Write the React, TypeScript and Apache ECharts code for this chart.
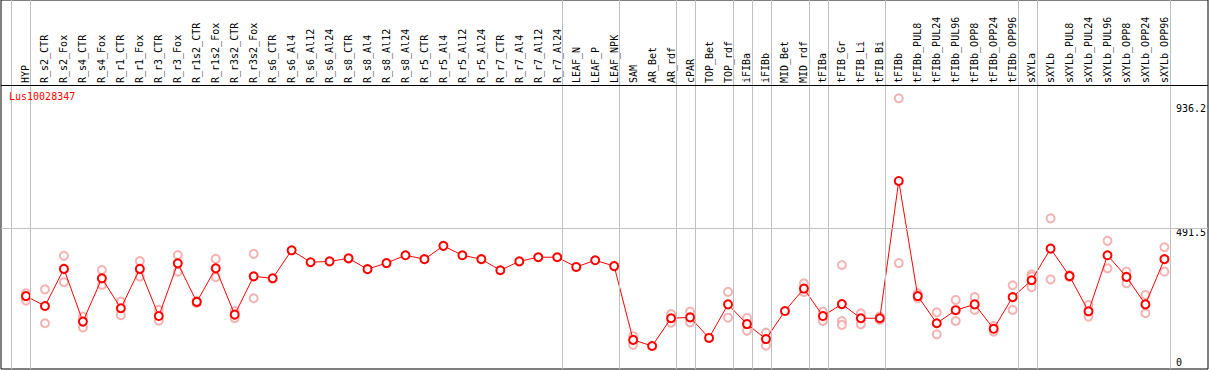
import React, { useEffect, useRef } from "react";
import * as echarts from "echarts";

const TITLE = "Lus10028347";

const CATEGORIES = [
  "HYP", "R_s2_CTR", "R_s2_Fox", "R_s4_CTR", "R_s4_Fox", "R_r1_CTR", "R_r1_Fox", "R_r3_CTR", "R_r3_Fox",
  "R_r1s2_CTR", "R_r1s2_Fox", "R_r3s2_CTR", "R_r3s2_Fox", "R_s6_CTR", "R_s6_Al4", "R_s6_Al12", "R_s6_Al24",
  "R_s8_CTR", "R_s8_Al4", "R_s8_Al12", "R_s8_Al24", "R_r5_CTR", "R_r5_Al4", "R_r5_Al12", "R_r5_Al24",
  "R_r7_CTR", "R_r7_Al4", "R_r7_Al12", "R_r7_Al24", "LEAF_N", "LEAF_P", "LEAF_NPK", "SAM", "AR_Bet", "AR_rdf",
  "cPAR", "TOP_Bet", "TOP_rdf", "iFIBa", "iFIBb", "MID_Bet", "MID_rdf", "tFIBa", "tFIB_Gr", "tFIB_Li", "tFIB_Bi",
  "tFIBb", "tFIBb_PUL8", "tFIBb_PUL24", "tFIBb_PUL96", "tFIBb_OPP8", "tFIBb_OPP24", "tFIBb_OPP96", "sXYLa",
  "sXYLb", "sXYLb_PUL8", "sXYLb_PUL24", "sXYLb_PUL96", "sXYLb_OPP8", "sXYLb_OPP24", "sXYLb_OPP96",
];

const MEANS = [
  247, 211, 345, 155, 311, 203, 345, 175, 365, 226, 347, 180, 318, 311, 412, 369, 372, 383, 344, 366,
  394, 380, 428, 394, 380, 340, 372, 387, 387, 352, 376, 355, 89, 67, 167, 170, 96, 217, 146, 92,
  193, 274, 175, 218, 167, 167, 662, 247, 149, 196, 217, 129, 243, 304, 418, 319, 192, 394, 316, 217, 380,
];

const REPLICATES: number[][] = [
  [257, 239, 230], [271, 149], [392, 297], [173, 134], [341, 287], [227, 178], [373, 317], [197, 158],
  [395, 335], [229, 222], [381, 315], [193, 167], [399, 239], [], [], [], [], [], [], [], [], [], [], [],
  [], [], [], [], [], [], [], [], [103, 71], [], [182, 151], [191, 152], [], [262, 169], [168, 122],
  [115, 68], [], [293, 262], [191, 157], [359, 157, 143], [185, 145], [173, 161], [960, 366], [257, 239],
  [188, 109], [233, 157], [243, 197], [139, 119], [286, 197], [325, 317, 279], [527, 307], [323, 316],
  [215, 173], [446, 347], [335, 293], [251, 185], [423, 335],
];

// index of the last category of each group (a grey rule follows it)
const GROUP_ENDS = [-1, 0, 28, 31, 34, 35, 37, 38, 39, 41, 42, 45, 52, 53, 60];

const Y_TICKS = [0, 491.5, 936.2];
const Y_MIN = -16;
const Y_PLOT_MAX = 1008;
const Y_FULL_MAX = 1314.5;

const FONT = '"DejaVu Sans Mono", monospace';

export default function App() {
  const ref = useRef<HTMLDivElement>(null);
  useEffect(() => {
    if (!ref.current) return;
    const chart = echarts.init(ref.current, undefined, { renderer: "svg" });
    const repData: number[][] = [];
    REPLICATES.forEach((vals, i) => vals.forEach((v) => repData.push([i, v])));
    const yLabelBase = {
      fontSize: 10,
      fontFamily: FONT,
      color: "#000",
      margin: 2,
      align: "left",
      formatter: (v: number) => String(v),
    };
    chart.setOption({
      animation: false,
      title: {
        text: TITLE,
        left: 9,
        top: 91,
        padding: 0,
        textStyle: { color: "#ff0000", fontSize: 10, fontFamily: FONT, fontWeight: "normal" },
      },
      grid: [
        { left: 1, right: 1, top: 0, bottom: 1, show: true, borderColor: "#000", borderWidth: 1, backgroundColor: "transparent" },
        { left: 16.5, right: 32.9, top: 85, bottom: 1 },
      ],
      xAxis: [
        { type: "value", gridIndex: 0, min: -1.315, max: 62.18, show: false },
        {
          type: "category",
          gridIndex: 1,
          data: CATEGORIES,
          position: "top",
          boundaryGap: true,
          axisLine: { show: false },
          axisTick: { show: false },
          splitLine: { show: false },
          axisLabel: { interval: 0, rotate: 90, margin: 2, fontSize: 10, fontFamily: FONT, color: "#000" },
        },
      ],
      yAxis: [
        { type: "value", gridIndex: 0, min: Y_MIN, max: Y_FULL_MAX, show: false },
        {
          type: "value",
          gridIndex: 1,
          min: Y_MIN,
          max: Y_PLOT_MAX,
          position: "right",
          axisLine: { show: false },
          axisTick: { show: false },
          splitLine: { show: false },
          axisLabel: { ...yLabelBase, customValues: Y_TICKS.slice(1), verticalAlign: "top", lineHeight: 8 },
        },
        {
          type: "value",
          gridIndex: 1,
          min: Y_MIN,
          max: Y_PLOT_MAX,
          position: "right",
          axisLine: { show: false },
          axisTick: { show: false },
          splitLine: { show: false },
          axisLabel: { ...yLabelBase, customValues: Y_TICKS.slice(0, 1), verticalAlign: "bottom", lineHeight: 4 },
        },
      ],
      series: [
        {
          type: "line",
          xAxisIndex: 0,
          yAxisIndex: 0,
          data: [],
          silent: true,
          markLine: {
            silent: true,
            symbol: ["none", "none"],
            label: { show: false },
            lineStyle: { color: "#c0c0c0", width: 1, type: "solid" },
            data: [
              ...GROUP_ENDS.map((i) => ({ xAxis: i + 0.22 })),
              { yAxis: Y_TICKS[1] },
              { yAxis: Y_PLOT_MAX, lineStyle: { color: "#000", width: 1, type: "solid" } },
            ],
          },
        },
        {
          type: "scatter",
          xAxisIndex: 1,
          yAxisIndex: 1,
          data: repData,
          symbol: "emptyCircle",
          symbolSize: 8,
          itemStyle: { color: "#f2a0a0", borderWidth: 1 },
          z: 3,
        },
        {
          type: "line",
          xAxisIndex: 1,
          yAxisIndex: 1,
          data: MEANS,
          symbol: "emptyCircle",
          symbolSize: 8,
          lineStyle: { color: "#ff0000", width: 1 },
          itemStyle: { color: "#ff0000", borderWidth: 1.2 },
          z: 4,
        },
      ],
    });
    return () => chart.dispose();
  }, []);
  return (
    <div
      ref={ref}
      style={{ position: "fixed", left: 0, top: 0, width: 1209, height: 370, background: "#fff" }}
    />
  );
}
